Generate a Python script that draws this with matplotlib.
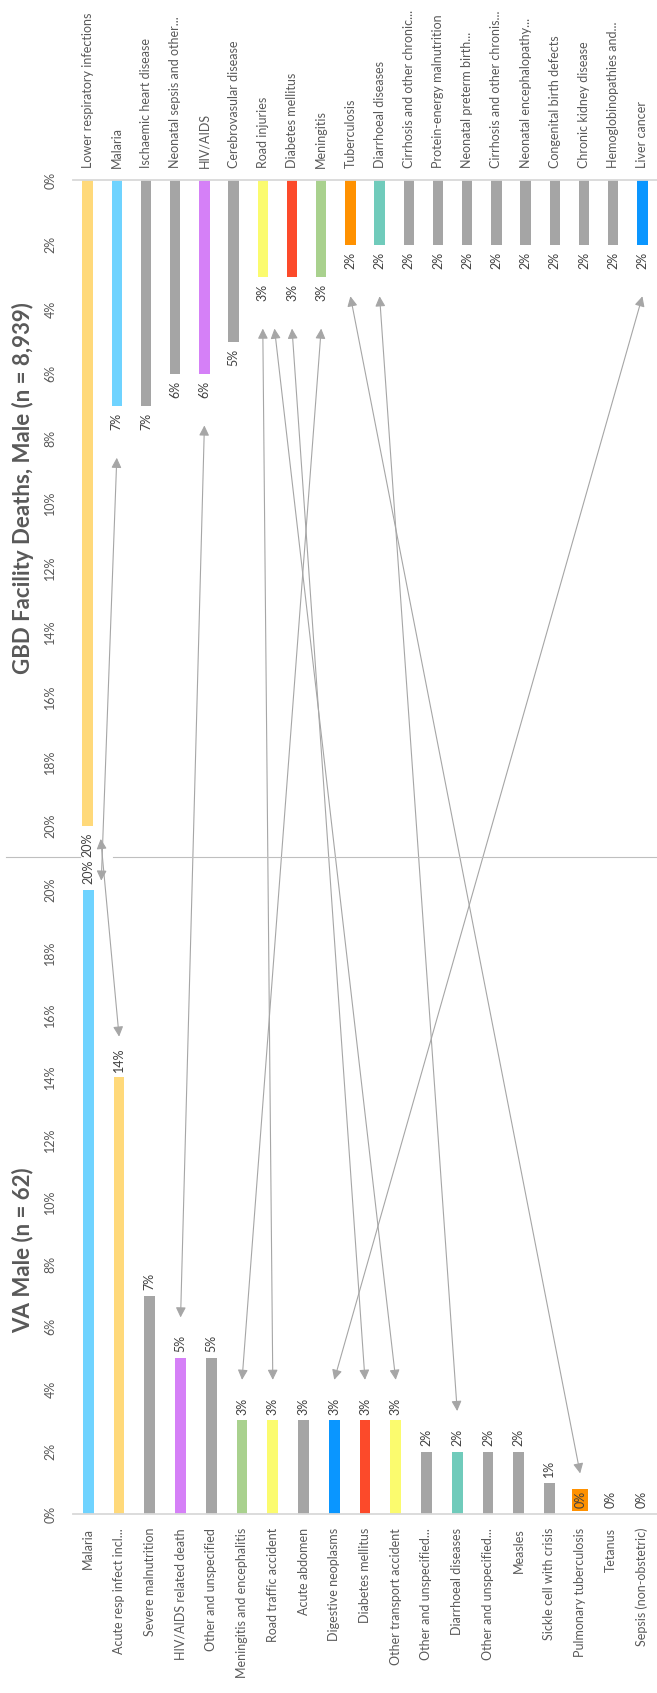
import matplotlib
matplotlib.use("Agg")
import matplotlib.pyplot as plt
from matplotlib.patches import ConnectionPatch
from matplotlib.lines import Line2D

plt.rcParams['font.family'] = ['Lato', 'DejaVu Sans']

# GBD facility deaths, male
gbd_causes = ["Lower respiratory infections", "Malaria", "Ischaemic heart disease",
              "Neonatal sepsis and other...", "HIV/AIDS", "Cerebrovasular disease",
              "Road injuries", "Diabetes mellitus", "Meningitis", "Tuberculosis",
              "Diarrhoeal diseases", "Cirrhosis and other chronic...",
              "Protein-energy malnutrition", "Neonatal preterm birth...",
              "Cirrhosis and other chronis...", "Neonatal encephalopathy...",
              "Congenital birth defects", "Chronic kidney disease",
              "Hemoglobinopathies and...", "Liver cancer"]
gbd_pct = [20, 7, 7, 6, 6, 5, 3, 3, 3, 2, 2, 2, 2, 2, 2, 2, 2, 2, 2, 2]
gbd_colors = ["#ffd97a", "#6fd3ff", "#a5a5a5", "#a5a5a5", "#d580f7", "#a5a5a5",
              "#fbfb6e", "#fc4a2a", "#a9d18e", "#ff9100", "#70cbbb", "#a5a5a5",
              "#a5a5a5", "#a5a5a5", "#a5a5a5", "#a5a5a5", "#a5a5a5", "#a5a5a5",
              "#a5a5a5", "#0a96ff"]

# verbal autopsy, male
va_causes = ["Malaria", "Acute resp infect incl...", "Severe malnutrition",
             "HIV/AIDS related death", "Other and unspecified",
             "Meningitis and encephalitis", "Road traffic accident", "Acute abdomen",
             "Digestive neoplasms", "Diabetes mellitus", "Other transport accident",
             "Other and unspecified...", "Diarrhoeal diseases",
             "Other and unspecified...", "Measles", "Sickle cell with crisis",
             "Pulmonary tuberculosis", "Tetanus", "Sepsis (non-obstetric)"]
va_pct = [20, 14, 7, 5, 5, 3, 3, 3, 3, 3, 3, 2, 2, 2, 2, 1, 0, 0, 0]
va_colors = ["#6fd3ff", "#ffd97a", "#a5a5a5", "#d580f7", "#a5a5a5", "#a9d18e",
             "#fbfb6e", "#a5a5a5", "#0a96ff", "#fc4a2a", "#fbfb6e", "#a5a5a5",
             "#70cbbb", "#a5a5a5", "#a5a5a5", "#a5a5a5", "#ff9100", "#a5a5a5",
             "#a5a5a5"]

# matching causes between the two lists
links = [("Lower respiratory infections", "Acute resp infect incl..."),
         ("Malaria", "Malaria"),
         ("HIV/AIDS", "HIV/AIDS related death"),
         ("Road injuries", "Road traffic accident"),
         ("Road injuries", "Other transport accident"),
         ("Diabetes mellitus", "Diabetes mellitus"),
         ("Meningitis", "Meningitis and encephalitis"),
         ("Tuberculosis", "Pulmonary tuberculosis"),
         ("Diarrhoeal diseases", "Diarrhoeal diseases"),
         ("Liver cancer", "Digestive neoplasms")]

W, H = 657, 1693
fig = plt.figure(figsize=(W / 100, H / 100), dpi=100)

TXT = "#595959"
AXC = "#d9d9d9"
FS = 9


def px_axes(left, top, right, bottom):
    return fig.add_axes([left / W, 1 - bottom / H, (right - left) / W, (bottom - top) / H])


ax_g = px_axes(73, 180, 657, 826)
ax_v = px_axes(73, 890, 657, 1514)

for ax in (ax_g, ax_v):
    for s in ax.spines.values():
        s.set_visible(False)
    ax.set_yticks(range(0, 21, 2))
    ax.set_yticklabels(["{0}%".format(t) for t in range(0, 21, 2)])
    ax.tick_params(axis='y', length=0, pad=12, labelsize=FS, labelcolor=TXT)
    for lbl in ax.get_yticklabels():
        lbl.set_rotation(90)
        lbl.set_va('center')
    ax.tick_params(axis='x', length=0, labelsize=FS, labelcolor=TXT)

# GBD panel, bars hang down from the 0% line
ax_g.bar(range(len(gbd_pct)), gbd_pct, width=0.35, color=gbd_colors)
ax_g.set_xlim(-0.5, len(gbd_pct) - 0.5)
ax_g.set_ylim(20, 0)
ax_g.spines['top'].set_visible(True)
ax_g.spines['top'].set_color(AXC)
ax_g.spines['top'].set_linewidth(1.3)
ax_g.xaxis.tick_top()
ax_g.set_xticks(range(len(gbd_causes)))
ax_g.set_xticklabels(gbd_causes, rotation=90)
ax_g.tick_params(axis='x', pad=9)
for i, v in enumerate(gbd_pct):
    ax_g.annotate("{0}%".format(v), (i, v), xytext=(0, -5), textcoords='offset points',
                  rotation=90, ha='center', va='top', fontsize=FS, color="#404040",
                  annotation_clip=False)

# VA panel, bars grow up from the 0% line
ax_v.bar(range(len(va_pct)), va_pct, width=0.35, color=va_colors)
ax_v.set_xlim(-0.5, len(va_pct) - 0.5)
ax_v.set_ylim(0, 20)
ax_v.spines['bottom'].set_visible(True)
ax_v.spines['bottom'].set_color(AXC)
ax_v.spines['bottom'].set_linewidth(1.3)
ax_v.set_xticks(range(len(va_causes)))
ax_v.set_xticklabels(va_causes, rotation=90)
ax_v.tick_params(axis='x', pad=10)
for i, v in enumerate(va_pct):
    kw = {}
    if va_causes[i] == "Pulmonary tuberculosis":
        kw['bbox'] = dict(facecolor="#ff9100", edgecolor='none', pad=1.5)
    ax_v.annotate("{0}%".format(v), (i, v), xytext=(0, 4), textcoords='offset points',
                  rotation=90, ha='center', va='bottom', fontsize=FS, color="#404040",
                  annotation_clip=False, **kw)

# panel titles
fig.text(23 / W, 1 - 488 / H, "GBD Facility Deaths, Male (n = 8,939)", rotation=90,
         ha='center', va='center', fontsize=16, fontweight='bold', color=TXT)
fig.text(23 / W, 1 - 1250 / H, "VA Male (n = 62)", rotation=90,
         ha='center', va='center', fontsize=16, fontweight='bold', color=TXT)

# divider between the two panels
fig.add_artist(Line2D([6 / W, 80 / W], [1 - 857 / H] * 2, color="#bfbfbf", lw=0.8))
fig.add_artist(Line2D([113 / W, 1], [1 - 857 / H] * 2, color="#bfbfbf", lw=0.8))

# double-headed arrows between matching causes
link_nudge = [(0.45, 0), (0, 0.42), (0, 0), (0, 0), (0.4, 0),
              (0, 0), (0, 0), (0, 0), (0, 0), (0, 0)]
for (g, v), (dg, dv) in zip(links, link_nudge):
    gi = gbd_causes.index(g)
    vi = va_causes.index(v)
    gy = min(gbd_pct[gi] + 1.6, 20.4)
    vy = min(va_pct[vi] + 1.3, 20.3)
    con = ConnectionPatch(xyA=(gi + dg, gy), coordsA=ax_g.transData,
                          xyB=(vi + dv, vy), coordsB=ax_v.transData,
                          arrowstyle='<|-|>,head_length=0.5,head_width=0.25',
                          mutation_scale=12, color="#a6a6a6", lw=0.8,
                          shrinkA=0, shrinkB=0)
    fig.add_artist(con)

fig.savefig("out.png", dpi=100)
